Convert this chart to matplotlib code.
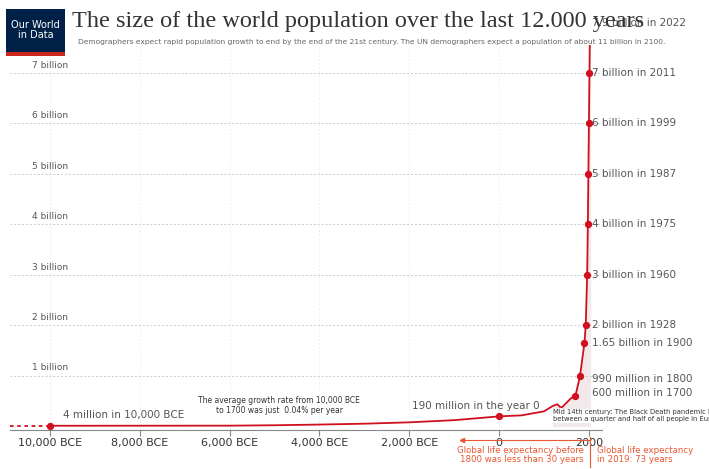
import matplotlib
matplotlib.use("Agg")
import matplotlib.pyplot as plt
from matplotlib.patches import Rectangle

# population in billions
years = [-10000, -8000, -6000, -5000, -4000, -3000, -2000, -1000, 0, 500, 1000, 1200, 1300,
         1350, 1400, 1500, 1600, 1700, 1800, 1900, 1928, 1960, 1975, 1987, 1999, 2011, 2022]
pop = [0.004, 0.005, 0.006, 0.014, 0.028, 0.045, 0.072, 0.115, 0.19, 0.21, 0.29, 0.40, 0.43,
       0.38, 0.37, 0.46, 0.55, 0.60, 0.99, 1.65, 2.0, 3.0, 4.0, 5.0, 6.0, 7.0, 7.9]

marked_years = [-10000, 0, 1700, 1800, 1900, 1928, 1960, 1975, 1987, 1999, 2011, 2022]
marked_pop = [0.004, 0.19, 0.60, 0.99, 1.65, 2.0, 3.0, 4.0, 5.0, 6.0, 7.0, 7.9]
marked_labels = ["4 million in 10,000 BCE", "190 million in the year 0", "600 million in 1700",
                 "990 million in 1800", "1.65 billion in 1900", "2 billion in 1928",
                 "3 billion in 1960", "4 billion in 1975", "5 billion in 1987",
                 "6 billion in 1999", "7 billion in 2011", "7.9 billion in 2022"]

xticks = [-10000, -8000, -6000, -4000, -2000, 0, 2000]
xticklabels = ["10,000 BCE", "8,000 BCE", "6,000 BCE", "4,000 BCE", "2,000 BCE", "0", "2000"]
yticks = [1, 2, 3, 4, 5, 6, 7]

red = "#d0101e"
grey = "#555555"

fig = plt.figure(figsize=(7.09, 4.69), dpi=100)
ax = fig.add_axes([10 / 709, 39 / 469, 592 / 709, 385 / 469])
ax.set_xlim(-10890, 2290)
ax.set_ylim(-0.08, 7.55)

late = [(y, p) for y, p in zip(years, pop) if y >= 1200]
ax.fill_between([y for y, _ in late], [p for _, p in late], color="#f3e9ea", zorder=0)
ax.plot(years, pop, color=red, lw=1.3, zorder=3)
ax.plot([-10890, -10000], [0.004, 0.004], color=red, lw=1.3, ls=(0, (2, 2)), zorder=3)
ax.scatter(marked_years, marked_pop, color=red, s=18, zorder=4)

for yv in yticks:
    ax.axhline(yv, color="#cccccc", lw=0.7, ls=(0, (2, 2)), zorder=1)
    ax.text(-10400, yv + 0.06, f"{yv} billion", fontsize=6.5, color=grey, va="bottom")
for xv in xticks:
    ax.axvline(xv, color="#eeeeee", lw=0.7, ls=(0, (2, 2)), zorder=1)

ax.set_xticks(xticks)
ax.set_xticklabels(xticklabels, fontsize=8, color="#333333")
ax.set_yticks([])
for s in ["left", "right", "top"]:
    ax.spines[s].set_visible(False)
ax.spines["bottom"].set_color("#888888")
ax.tick_params(axis="x", length=4, color="#888888", pad=2)

for yr, p, lab in zip(marked_years, marked_pop, marked_labels):
    if yr == -10000:
        ax.text(-9700, p + 0.12, lab, fontsize=7.5, color=grey, va="bottom")
    elif yr == 0:
        ax.text(-1950, p + 0.1, lab, fontsize=7.5, color=grey, va="bottom")
    else:
        dy = {1700: 0.05, 1800: -0.05, 2022: 0.08}.get(yr, 0.0)
        ax.text(2070, p + dy, lab, fontsize=7.5, color=grey, va="center")

ax.text(-4900, 0.22, "The average growth rate from 10,000 BCE\nto 1700 was just  0.04% per year",
        fontsize=5.5, color="#333333", ha="center", va="bottom", linespacing=1.1)
ax.text(1200, 0.07, "Mid 14th century: The Black Death pandemic killed\nbetween a quarter and half of all people in Europe.",
        fontsize=4.9, color="#333333", va="bottom", linespacing=1.2,
        bbox=dict(facecolor="white", edgecolor="none", pad=0.5))

# life expectancy notes under the axis
fig.text(584 / 709, 14 / 469, "Global life expectancy before\n1800 was less than 30 years",
         fontsize=6.2, color="#e8572f", ha="right", va="center", linespacing=1.1)
fig.text(597 / 709, 14 / 469, "Global life expectancy\nin 2019: 73 years",
         fontsize=6.2, color="#e8572f", ha="left", va="center", linespacing=1.1)
fig.add_artist(plt.Line2D([460 / 709, 590 / 709], [29 / 469, 29 / 469], color="#e8572f", lw=0.8))
fig.add_artist(plt.Line2D([462 / 709], [29 / 469], marker="<", color="#e8572f", ms=3))
fig.add_artist(plt.Line2D([590 / 709, 590 / 709], [2 / 469, 32 / 469], color="#e8572f", lw=0.8))

# header
fig.add_artist(Rectangle((6 / 709, 413 / 469), 59 / 709, 47 / 469, transform=fig.transFigure,
                         facecolor="#002147", edgecolor="none"))
fig.add_artist(Rectangle((6 / 709, 413 / 469), 59 / 709, 4 / 469, transform=fig.transFigure,
                         facecolor="#ce261e", edgecolor="none"))
fig.text(35.5 / 709, 439 / 469, "Our World\nin Data", fontsize=7, color="white",
         ha="center", va="center", linespacing=1.0)
fig.text(72 / 709, 447 / 469, "The size of the world population over the last 12.000 years",
         fontsize=17.5, family="Liberation Serif", color="#333333", va="center")
fig.text(78 / 709, 427 / 469,
         "Demographers expect rapid population growth to end by the end of the 21st century. "
         "The UN demographers expect a population of about 11 billion in 2100.",
         fontsize=5.4, color="#666666", va="center")

fig.savefig("out.png", dpi=100)
